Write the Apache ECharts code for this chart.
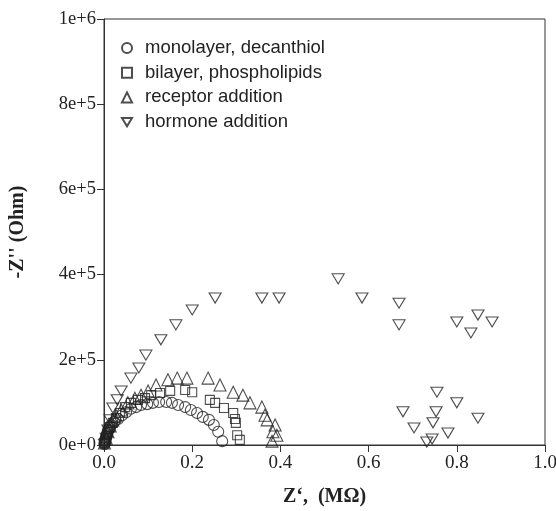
<!DOCTYPE html>
<html>
<head>
<meta charset="utf-8">
<script src="https://cdn.jsdelivr.net/npm/echarts@6/dist/echarts.min.js"></script>
<style>
  html, body { margin: 0; padding: 0; background: #fff; }
  #chart { width: 556px; height: 511px; }
</style>
</head>
<body>
<div id="chart"></div>
<script>
// Nyquist plot: Z' (MOhm) against -Z'' (Ohm) for each layer step
const seriesNames = [
  'monolayer, decanthiol',
  'bilayer, phospholipids',
  'receptor addition',
  'hormone addition'
];

const monoX = [0.001, 0.0015, 0.002, 0.0025, 0.003, 0.004, 0.005, 0.006, 0.007, 0.008, 0.009, 0.010, 0.012, 0.014, 0.016, 0.023, 0.032, 0.041, 0.050, 0.061, 0.073, 0.084, 0.098, 0.111, 0.125, 0.141, 0.154, 0.168, 0.184, 0.197, 0.211, 0.224, 0.238, 0.249, 0.259, 0.268];
const monoY = [2000, 4000, 7000, 9000, 12000, 15000, 19000, 22000, 26000, 29000, 33000, 36000, 40000, 43000, 47000, 54000, 61000, 70000, 77000, 85000, 89000, 94000, 96000, 99000, 101000, 101000, 99000, 94000, 89000, 82000, 75000, 66000, 59000, 47000, 31000, 9000];

const biX = [0.001, 0.005, 0.009, 0.014, 0.020, 0.027, 0.036, 0.048, 0.061, 0.077, 0.093, 0.107, 0.127, 0.150, 0.184, 0.200, 0.240, 0.252, 0.272, 0.293, 0.297, 0.299, 0.302, 0.308];
const biY = [5000, 16000, 31000, 42000, 52000, 63000, 75000, 89000, 99000, 106000, 110000, 117000, 122000, 127000, 129000, 124000, 106000, 99000, 87000, 75000, 61000, 52000, 23000, 12000];

const recX = [0.001, 0.005, 0.009, 0.014, 0.020, 0.027, 0.039, 0.054, 0.070, 0.084, 0.100, 0.118, 0.145, 0.166, 0.188, 0.236, 0.263, 0.293, 0.315, 0.331, 0.358, 0.365, 0.370, 0.388, 0.383, 0.392, 0.381];
const recY = [5000, 16000, 31000, 45000, 59000, 70000, 82000, 99000, 110000, 117000, 127000, 141000, 153000, 157000, 157000, 157000, 141000, 124000, 117000, 99000, 89000, 70000, 59000, 47000, 31000, 23000, 9000];

const horX = [0.001, 0.005, 0.009, 0.014, 0.020, 0.030, 0.039, 0.061, 0.079, 0.095, 0.129, 0.163, 0.200, 0.252, 0.358, 0.397, 0.531, 0.585, 0.669, 0.669, 0.800, 0.848, 0.880, 0.832, 0.755, 0.800, 0.678, 0.753, 0.848, 0.746, 0.703, 0.780, 0.744, 0.732];
const horY = [2000, 16000, 35000, 59000, 87000, 106000, 127000, 157000, 181000, 211000, 247000, 282000, 317000, 345000, 345000, 345000, 390000, 345000, 333000, 282000, 289000, 305000, 289000, 263000, 124000, 99000, 78000, 78000, 63000, 52000, 40000, 28000, 14000, 7000];

const xTicks = [0, 0.2, 0.4, 0.6, 0.8, 1.0];
const yTicks = [0, 200000, 400000, 600000, 800000, 1000000];

function pairs(xs, ys) {
  return xs.map((x, i) => [x, ys[i]]);
}

function sciLabel(v) {
  if (v === 0) return '0e+0';
  const e = Math.floor(Math.log10(v) + 1e-9);
  const m = Math.round(v / Math.pow(10, e));
  return m + 'e+' + e;
}

const ink = '#222';
const serif = '"Liberation Serif", "DejaVu Serif", serif';
// downward-pointing triangle
const downTriangle = 'path://M0,0L12,0L6,10Z';

function markerSeries(name, data, symbol, size) {
  return {
    name: name,
    type: 'scatter',
    data: data,
    symbol: symbol,
    symbolSize: size,
    itemStyle: { color: 'rgba(255,255,255,0)', borderColor: ink, borderWidth: 1.1 },
    emphasis: { disabled: true }
  };
}

const chart = echarts.init(document.getElementById('chart'), null, { renderer: 'canvas' });

chart.setOption({
  animation: false,
  backgroundColor: '#fff',
  grid: {
    left: 104, right: 11, top: 19, bottom: 66,
    outerBoundsMode: 'none',
    containLabel: false,
    show: true, borderColor: '#333', borderWidth: 1, backgroundColor: 'transparent'
  },
  legend: {
    orient: 'vertical',
    left: 116, top: 33,
    itemWidth: 10, itemHeight: 10, itemGap: 4.7,
    selectedMode: false,
    data: [
      { name: seriesNames[0], icon: 'circle' },
      { name: seriesNames[1], icon: 'rect' },
      { name: seriesNames[2], icon: 'triangle' },
      { name: seriesNames[3], icon: downTriangle }
    ],
    textStyle: {
      fontFamily: '"Liberation Sans", Arial, sans-serif',
      fontSize: 18.5, lineHeight: 20, color: ink,
      padding: [0, 0, 0, 8]
    }
  },
  xAxis: {
    type: 'value',
    min: 0, max: 1, interval: 0.2,
    name: 'Z‘,  (MΩ)',
    nameLocation: 'middle', nameGap: 42,
    nameTextStyle: { fontFamily: serif, fontSize: 20, fontWeight: 'bold', color: ink },
    axisLine: { show: true, lineStyle: { color: '#333', width: 1 } },
    axisTick: { show: true, inside: false, length: 7, lineStyle: { color: '#333' } },
    splitLine: { show: false },
    axisLabel: {
      fontFamily: serif, fontSize: 19, color: ink, margin: 9,
      formatter: v => xTicks.some(t => Math.abs(t - v) < 1e-9) ? v.toFixed(1) : ''
    }
  },
  yAxis: {
    type: 'value',
    min: 0, max: 1000000, interval: 200000,
    name: '-Z\'\' (Ohm)',
    nameLocation: 'middle', nameGap: 76, nameRotate: 90,
    nameTextStyle: { fontFamily: serif, fontSize: 20, fontWeight: 'bold', color: ink },
    axisLine: { show: true, lineStyle: { color: '#333', width: 1 } },
    axisTick: { show: true, inside: false, length: 7, lineStyle: { color: '#333' } },
    splitLine: { show: false },
    axisLabel: {
      fontFamily: serif, fontSize: 18.5, color: ink, margin: 8,
      formatter: v => yTicks.indexOf(v) >= 0 ? sciLabel(v) : ''
    }
  },
  series: [
    markerSeries(seriesNames[0], pairs(monoX, monoY), 'circle', 11),
    markerSeries(seriesNames[1], pairs(biX, biY), 'rect', 9),
    markerSeries(seriesNames[2], pairs(recX, recY), 'triangle', 12),
    markerSeries(seriesNames[3], pairs(horX, horY), downTriangle, [12, 10])
  ]
});
</script>
</body>
</html>
